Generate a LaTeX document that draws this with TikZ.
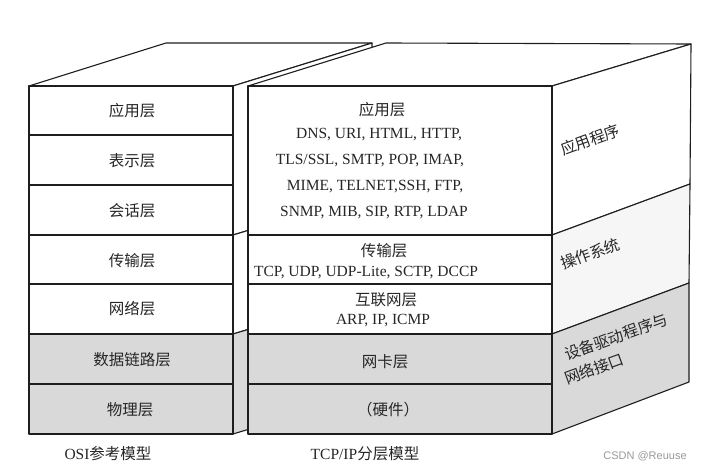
\documentclass[tikz,border=0pt]{standalone}
\usepackage{fontspec}
\setmainfont{Liberation Serif}
\newfontfamily\cjk{Noto Sans CJK SC}
\newfontfamily\wmfont{Liberation Sans}
\definecolor{shade}{HTML}{D9D9D9}
\definecolor{lightshade}{HTML}{F6F6F6}
\definecolor{edge}{HTML}{1E1E1E}
\begin{document}
\begin{tikzpicture}[x=1pt,y=-1pt, line join=round,
  face/.style={draw=edge, line width=1.1pt, fill=white},
  lightface/.style={draw=edge, line width=1.1pt, fill=lightshade},
  greyface/.style={draw=edge, line width=1.1pt, fill=shade},
  zh/.style={font=\cjk\fontsize{15.5}{18}\selectfont, inner sep=0pt, text=black!85},
  en/.style={font=\fontsize{15.5}{18}\selectfont, inner sep=0pt, text=black!85},
  side/.style={zh, rotate=20, anchor=base west}]
\useasboundingbox (0,0) rectangle (706,468);

% ---- left (OSI) box: top and side faces
\draw[face] (29,86) -- (166,43) -- (372,43) -- (233,86) -- cycle;
\draw[face] (233,86) -- (372,43) -- (372,193) -- (233,235) -- cycle;
\draw[face] (233,235) -- (372,193) -- (372,292) -- (233,334) -- cycle;
\draw[greyface] (233,334) -- (372,292) -- (372,392) -- (233,434) -- cycle;

% ---- right (TCP/IP) box: top and side faces
\draw[face] (248,86) -- (386,43) -- (691,44) -- (552,86) -- cycle;
\draw[face] (552,86) -- (691,44) -- (690,184) -- (552,235) -- cycle;
\draw[lightface] (552,235) -- (690,184) -- (689,283) -- (552,334) -- cycle;
\draw[greyface] (552,334) -- (689,283) -- (689,382) -- (552,434) -- cycle;

% ---- right box front
\draw[face] (248,86) rectangle (552,235);
\draw[face] (248,235) rectangle (552,284);
\draw[face] (248,284) rectangle (552,334);
\draw[greyface] (248,334) rectangle (552,384);
\draw[greyface] (248,384) rectangle (552,434);

% ---- left box front
\draw[face] (29,86) rectangle (233,135);
\draw[face] (29,135) rectangle (233,185);
\draw[face] (29,185) rectangle (233,235);
\draw[face] (29,235) rectangle (233,284);
\draw[face] (29,284) rectangle (233,334);
\draw[greyface] (29,334) rectangle (233,384);
\draw[greyface] (29,384) rectangle (233,434);

% ---- OSI labels
\node[zh] (osi7) at (132,111) {应用层};
\node[zh] (osi6) at (132,161) {表示层};
\node[zh] (osi5) at (132,211) {会话层};
\node[zh] (osi4) at (132,261) {传输层};
\node[zh] (osi3) at (132,309) {网络层};
\node[zh] (osi2) at (132,360) {数据链路层};
\node[zh] (osi1) at (130,410) {物理层};

% ---- TCP/IP labels
\node[zh] (app) at (382,110) {应用层};
\node[en] (app1) at (379,135) {DNS, URI, HTML, HTTP,};
\node[en] (app2) at (370,161) {TLS/SSL, SMTP, POP, IMAP,};
\node[en] (app3) at (375,187) {MIME, TELNET,SSH, FTP,};
\node[en] (app4) at (374,213) {SNMP, MIB, SIP, RTP, LDAP};
\node[zh] (tra) at (384,251) {传输层};
\node[en] (tra1) at (366,273) {TCP, UDP, UDP-Lite, SCTP, DCCP};
\node[zh] (net) at (386,300) {互联网层};
\node[en] (net1) at (383,321) {ARP, IP, ICMP};
\node[zh] (nic) at (385,362) {网卡层};
\node[zh] (hw) at (388,410) {（硬件）};

% ---- side labels
\node[side] (s1) at (563,156) {应用程序};
\node[side] (s2) at (563,270) {操作系统};
\node[side] (s3) at (567,361) {设备驱动程序与};
\node[side] (s4) at (567,385) {网络接口};

% ---- captions
\node[en] (cap1) at (108,454) {OSI{\cjk 参考模型}};
\node[en] (cap2) at (365,454) {TCP/IP{\cjk 分层模型}};
\node[font=\wmfont\fontsize{11}{13}\selectfont, text=black!40, inner sep=0pt] (wm) at (645,456) {CSDN @Reuuse};
\end{tikzpicture}
\end{document}
